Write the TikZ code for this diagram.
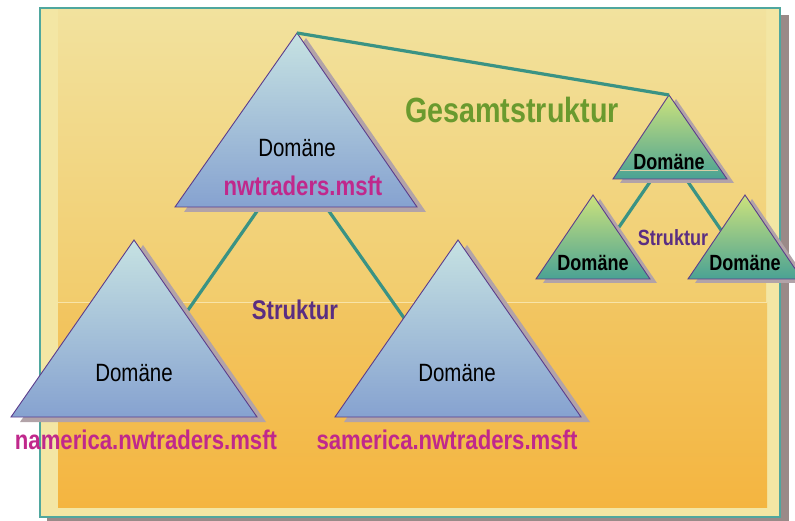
\documentclass[tikz,border=0pt]{standalone}
\usepackage{fontspec}
\newfontfamily\nar[FakeStretch=0.82]{Liberation Sans}
\definecolor{frameFill}{HTML}{F3E6A4}
\definecolor{innerTop}{HTML}{F2E29E}
\definecolor{innerMid}{HTML}{F2CC6C}
\definecolor{lowerTop}{HTML}{F2C662}
\definecolor{lowerBot}{HTML}{F4B540}
\definecolor{seamC}{HTML}{F8E4A8}
\definecolor{frameLine}{HTML}{4FA79E}
\definecolor{shadowC}{HTML}{9A8A88}
\definecolor{triShadow}{HTML}{B2A3A8}
\definecolor{triLine}{HTML}{5B3C8C}
\definecolor{blueTop}{HTML}{C6E2E2}
\definecolor{blueBot}{HTML}{86A2D0}
\definecolor{greenTop}{HTML}{CCE27C}
\definecolor{greenBot}{HTML}{4AA294}
\definecolor{glintC}{HTML}{D6CFA6}
\definecolor{conn}{HTML}{3A9384}
\definecolor{magentaT}{HTML}{C0288C}
\definecolor{purpleT}{HTML}{5A2E82}
\definecolor{greenT}{HTML}{6A9A2E}
\tikzset{
  connector/.style={draw=conn, line width=3.2pt},
  trishadow/.style={fill=triShadow},
  bluetri/.style={top color=blueTop, bottom color=blueBot, draw=triLine, line width=0.9pt},
  greentri/.style={top color=greenTop, bottom color=greenBot, draw=triLine, line width=0.9pt},
  domlabel/.style={font=\nar\fontsize{25}{28}\selectfont, text=black, inner sep=0pt},
  domsmall/.style={font=\nar\bfseries\fontsize{22}{24}\selectfont, text=black, inner sep=0pt},
  dnslabel/.style={font=\nar\bfseries\fontsize{27}{30}\selectfont, text=magentaT, inner sep=0pt},
  struk/.style={font=\nar\bfseries\fontsize{27}{30}\selectfont, text=purpleT, inner sep=0pt},
  struksmall/.style={font=\nar\bfseries\fontsize{22}{24}\selectfont, text=purpleT, inner sep=0pt},
  gesamt/.style={font=\nar\bfseries\fontsize{35}{38}\selectfont, text=greenT, inner sep=0pt}
}
\begin{document}
\begin{tikzpicture}[x=1pt,y=-1pt]
\useasboundingbox (0,0) rectangle (795,521);
% frame shadow and frame
\fill[shadowC] (47,15) rectangle (789,521);
\fill[frameFill] (40,8) rectangle (780,517);
\shade[top color=innerTop, bottom color=innerMid] (58,9) rectangle (766,303);
\shade[top color=lowerTop, bottom color=lowerBot] (58,303) rectangle (767,507);
\draw[seamC, line width=1pt] (58,303) -- (767,303);
\draw[frameLine, line width=1.2pt] (40,8) rectangle (780,517);

% triangle corner coordinates
\coordinate (rootA) at (297,33);  \coordinate (rootL) at (175,207); \coordinate (rootR) at (417,207);
\coordinate (naA) at (134,240);   \coordinate (naL) at (11,417);    \coordinate (naR) at (257,417);
\coordinate (saA) at (458,240);   \coordinate (saL) at (335,417);   \coordinate (saR) at (581,417);
\coordinate (gA) at (669,95);     \coordinate (gL) at (613,179);    \coordinate (gR) at (727,179);
\coordinate (g1A) at (593,195);   \coordinate (g1L) at (536,279);   \coordinate (g1R) at (650,279);
\coordinate (g2A) at (745,195);   \coordinate (g2L) at (688,279);   \coordinate (g2R) at (802,279);

% connectors (drawn beneath triangles)
\coordinate (rootOutL) at (260,207);
\coordinate (rootOutR) at (326,207);
\coordinate (naIn) at (186,313);
\coordinate (saIn) at (404,318);
\coordinate (gOutL) at (652,179);
\coordinate (gOutR) at (686,179);
\coordinate (g1In) at (617,230);
\coordinate (g2In) at (721,230);
\draw[connector] (rootOutL) -- (naIn);
\draw[connector] (rootOutR) -- (saIn);
\draw[connector] (gOutL) -- (g1In);
\draw[connector] (gOutR) -- (g2In);

% blue triangles
\foreach \t in {root,na,sa}{
  \fill[trishadow] ([shift={(9,5)}]\t A) -- ([shift={(9,5)}]\t L) -- ([shift={(9,5)}]\t R) -- cycle;
  \path[bluetri] (\t A) -- (\t L) -- (\t R) -- cycle;
}
% green triangles
\foreach \t in {g,g1,g2}{
  \fill[trishadow] ([shift={(7,4)}]\t A) -- ([shift={(7,4)}]\t L) -- ([shift={(7,4)}]\t R) -- cycle;
  \path[greentri] (\t A) -- (\t L) -- (\t R) -- cycle;
}
\coordinate (glintL) at (620,170);
\coordinate (glintR) at (718,170);
\draw[glintC, line width=0.9pt] (glintL) -- (glintR);
\draw[connector] (rootA) -- (gA);

% labels
\node[domlabel] (rootDom) at (297,148) {Domäne};
\node[dnslabel] (rootDns) at (303,186) {nwtraders.msft};
\node[domlabel] (naDom) at (134,373) {Domäne};
\node[dnslabel] (naDns) at (146,440) {namerica.nwtraders.msft};
\node[domlabel] (saDom) at (457,373) {Domäne};
\node[dnslabel] (saDns) at (447,440) {samerica.nwtraders.msft};
\node[struk] (strukBig) at (295,310) {Struktur};
\node[gesamt] (gesamtLbl) at (512,110) {Gesamtstruktur};
\node[domsmall] (gDom) at (669,162) {Domäne};
\node[domsmall] (g1Dom) at (593,263) {Domäne};
\node[domsmall] (g2Dom) at (745,263) {Domäne};
\node[struksmall] (strukSmall) at (673,238) {Struktur};
\end{tikzpicture}
\end{document}
